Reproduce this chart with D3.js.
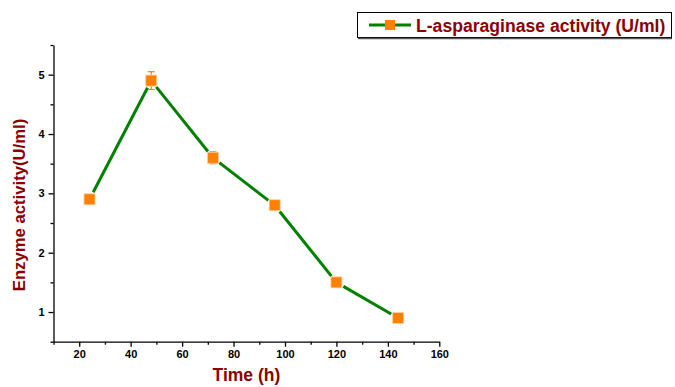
<!DOCTYPE html>
<html><head><meta charset="utf-8">
<script src="https://cdn.jsdelivr.net/npm/d3@7"></script>
<style>body{margin:0;background:#fff}svg{display:block}</style>
</head><body>
<script>
const times = [24, 48, 72, 96, 120, 144];
const activity = [2.9, 4.9, 3.6, 2.8, 1.5, 0.9];
const errors = [0, 0.15, 0.1, 0, 0, 0];
const xTicks = [20, 40, 60, 80, 100, 120, 140, 160];
const yTicks = [1, 2, 3, 4, 5];
const seriesName = "L-asparaginase activity (U/ml)";
const xTitle = "Time (h)";
const yTitle = "Enzyme activity(U/ml)";

const W = 675, H = 387;
const font = "'Liberation Sans', Arial, sans-serif";
const dark = "#8B0000";
const svg = d3.select("body").append("svg").attr("width", W).attr("height", H);

const x = d3.scaleLinear().domain([10, 160]).range([53.5, 439.3]);
const y = d3.scaleLinear().domain([0.5, 5.5]).range([341.7, 45]);

// axes
const xAxis = svg.append("g").attr("transform", `translate(0,${y(0.5)})`)
  .call(d3.axisBottom(x).tickValues(xTicks).tickSize(5).tickSizeOuter(0).tickPadding(4).tickFormat(d3.format("d")));
const xMinor = svg.append("g").attr("transform", `translate(0,${y(0.5)})`)
  .call(d3.axisBottom(x).tickValues(d3.range(10, 161, 10).filter(v => !xTicks.includes(v))).tickSize(3).tickFormat(""));
xMinor.select(".domain").remove();
const yAxis = svg.append("g").attr("transform", `translate(${x(10)},0)`)
  .call(d3.axisLeft(y).tickValues(yTicks).tickSize(5).tickSizeOuter(0).tickPadding(4).tickFormat(d3.format("d")));
const yMinor = svg.append("g").attr("transform", `translate(${x(10)},0)`)
  .call(d3.axisLeft(y).tickValues([0.5,1.5,2.5,3.5,4.5,5.5]).tickSize(3).tickFormat(""));
yMinor.select(".domain").remove();
[xAxis, yAxis, xMinor, yMinor].forEach(g => {
  g.selectAll("path,line").attr("stroke", "#000").attr("stroke-width", 1.3);
  g.selectAll("text").attr("font-family", font).attr("font-size", 11).attr("font-weight", "bold").attr("fill", "#000");
});

// line segments with gaps at markers
const pts = times.map((t, i) => [x(t), y(activity[i])]);
const gap = 8;
for (let i = 0; i < pts.length - 1; i++) {
  const [x1, y1] = pts[i], [x2, y2] = pts[i + 1];
  const dx = x2 - x1, dy = y2 - y1, L = Math.hypot(dx, dy);
  const ux = dx / L, uy = dy / L;
  svg.append("line")
    .attr("x1", x1 + ux * gap).attr("y1", y1 + uy * gap)
    .attr("x2", x2 - ux * gap).attr("y2", y2 - uy * gap)
    .attr("stroke", "#008000").attr("stroke-width", 3);
}

// error bars
const eb = svg.append("g").attr("stroke", "#FF8000").attr("stroke-width", 1.2);
times.forEach((t, i) => {
  if (!errors[i]) return;
  const cx = x(t), top = y(activity[i] + errors[i]), bot = y(activity[i] - errors[i]);
  eb.append("line").attr("x1", cx).attr("x2", cx).attr("y1", top).attr("y2", bot);
  eb.append("line").attr("x1", cx - 3.5).attr("x2", cx + 3.5).attr("y1", top).attr("y2", top);
  eb.append("line").attr("x1", cx - 3.5).attr("x2", cx + 3.5).attr("y1", bot).attr("y2", bot);
});

// markers
const s = 11;
svg.append("g").selectAll("rect").data(times).join("rect")
  .attr("x", (d) => x(d) - s / 2).attr("y", (d, i) => y(activity[i]) - s / 2)
  .attr("width", s).attr("height", s).attr("fill", "#FF8000")
  .attr("stroke", "#FFD0A0").attr("stroke-width", 0.8);

// axis titles
svg.append("text").attr("x", (x(10) + x(160)) / 2).attr("y", 381)
  .attr("text-anchor", "middle").attr("font-family", font).attr("font-weight", "bold")
  .attr("font-size", 17.5).attr("fill", dark).text(xTitle);
svg.append("text").attr("transform", `translate(25,205) rotate(-90)`)
  .attr("text-anchor", "middle").attr("font-family", font).attr("font-weight", "bold")
  .attr("font-size", 16.7).attr("fill", dark).text(yTitle);

// legend
const lg = svg.append("g");
lg.append("rect").attr("x", 357.5).attr("y", 12.5).attr("width", 314).attr("height", 25)
  .attr("fill", "#fff").attr("stroke", "#000").attr("stroke-width", 1);
lg.append("line").attr("x1", 358).attr("x2", 672).attr("y1", 38.5).attr("y2", 38.5).attr("stroke", "#555").attr("stroke-width", 1.5);
lg.append("line").attr("x1", 369).attr("x2", 411).attr("y1", 25).attr("y2", 25).attr("stroke", "#008000").attr("stroke-width", 3);
lg.append("rect").attr("x", 385).attr("y", 20).attr("width", 10).attr("height", 10).attr("fill", "#FF8000");
lg.append("text").attr("x", 416).attr("y", 31.5).attr("font-family", font).attr("font-weight", "bold")
  .attr("font-size", 17.6).attr("fill", dark).text(seriesName);
</script>
</body></html>
